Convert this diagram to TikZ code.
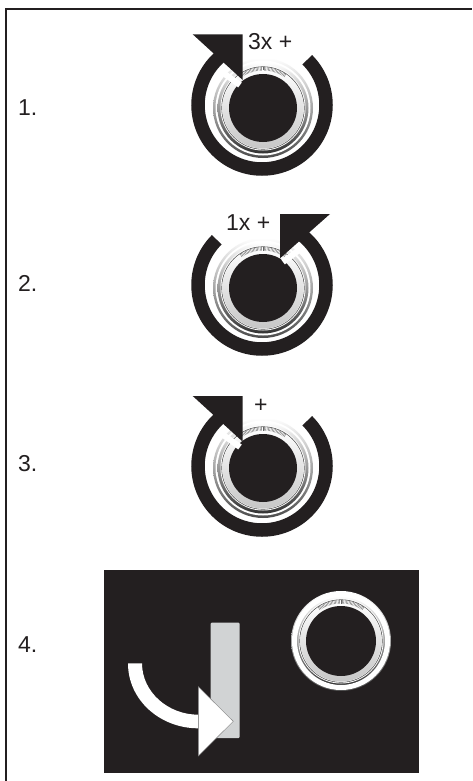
\documentclass[tikz,border=0pt]{standalone}
\usepackage{fontspec}
\setmainfont{Liberation Sans}
\definecolor{inkblack}{HTML}{231F20}
\definecolor{silver}{HTML}{D1D3D4}

% knob drawn at the current origin
\newcommand{\knobdial}{%
    \shade[top color=white, middle color=black!25, bottom color=black!70] (0,0) circle (50);
    \fill[white] (0,0) circle (47.5);
    \shade[top color=white, middle color=black!40, bottom color=black!80] (0,0) circle (45.5);
    \fill[white] (0,0) circle (42.5);
    \draw[black!65, line width=0.6pt] (0,0) circle (41.3);
    \shade[top color=white, middle color=silver, bottom color=black!22] (0,0) circle (40.5);
    \foreach \ang in {-124,-122,...,-56} {
        \draw[black!60, line width=0.4pt] (\ang:37.5) -- (\ang:41);
    }
    \fill[inkblack] (0,0) circle (34);
}

\begin{document}
\begin{tikzpicture}[
    x=1pt, y=-1pt,
    font=\fontsize{23}{26}\selectfont,
    steplabel/.style={anchor=base west, text=inkblack, inner sep=0pt},
    turnlabel/.style={anchor=base west, text=inkblack, inner sep=0pt},
    ringarc/.style={draw=inkblack, line width=13.5pt},
    headgap/.style={draw=white, line width=6pt},
    turnhead/.style={fill=inkblack}
]
\useasboundingbox (0,0) rectangle (472,781);
\fill[white] (0,0) rectangle (472,781);

% ==================== FRAME ====================
\draw[inkblack, line width=2pt] (6,781) -- (6,9) -- (472,9);

% ==================== STEP 1 ====================
\begin{scope}[shift={(263,108)}]
    \knobdial
\end{scope}
\draw[headgap] (208,62) -- (240,85);
\draw[ringarc] (262,105) ++(-45:64) arc[start angle=-45, end angle=232, radius=64];
\fill[turnhead] (192.7,34.3) -- (242.7,34.3) -- (242.7,80) -- cycle;
\node[turnlabel] (turn1) at (248,49.3) {3x +};
\node[steplabel] (step1) at (18,115.7) {1.};

% ==================== STEP 2 ====================
\begin{scope}[shift={(263,288)}]
    \knobdial
\end{scope}
\draw[headgap] (315,238) -- (283,262);
\draw[ringarc] (262,285) ++(-135:64) arc[start angle=-135, end angle=-412, radius=64];
\fill[turnhead] (330,214) -- (280,214) -- (280,258.3) -- cycle;
\node[turnlabel] (turn2) at (226,230.7) {1x +};
\node[steplabel] (step2) at (18,291.7) {2.};

% ==================== STEP 3 ====================
\begin{scope}[shift={(263,468)}]
    \knobdial
\end{scope}
\draw[headgap] (208,424) -- (240,447);
\draw[ringarc] (262,466) ++(-45:64) arc[start angle=-45, end angle=232, radius=64];
\fill[turnhead] (192.7,396) -- (242.7,396) -- (242.7,441.7) -- cycle;
\node[turnlabel] (turn3) at (254,412.5) {+};
\node[steplabel] (step3) at (18,471.7) {3.};

% ==================== STEP 4 ====================
\fill[inkblack] (104,570) rectangle (419,773);
\begin{scope}[shift={(341,641)}]
    \knobdial
    \draw[white, line width=5pt] (0,0) circle (46.5);
    \fill[inkblack] (0,0) circle (35);
\end{scope}
\fill[silver, rounded corners=1pt] (210.7,622.7) rectangle (239.7,738);
\fill[white] (128,663.3) .. controls (128,700) and (160,728.3) .. (198.3,728.3) -- (198.3,714.7) .. controls (168,714.7) and (142,692) .. (142,663.3) -- cycle;
\fill[white, draw=black!50, line width=0.4pt] (198.3,686.7) -- (233.3,721.3) -- (198.3,756) -- cycle;
\node[steplabel] (step4) at (18,652.7) {4.};
\end{tikzpicture}
\end{document}
